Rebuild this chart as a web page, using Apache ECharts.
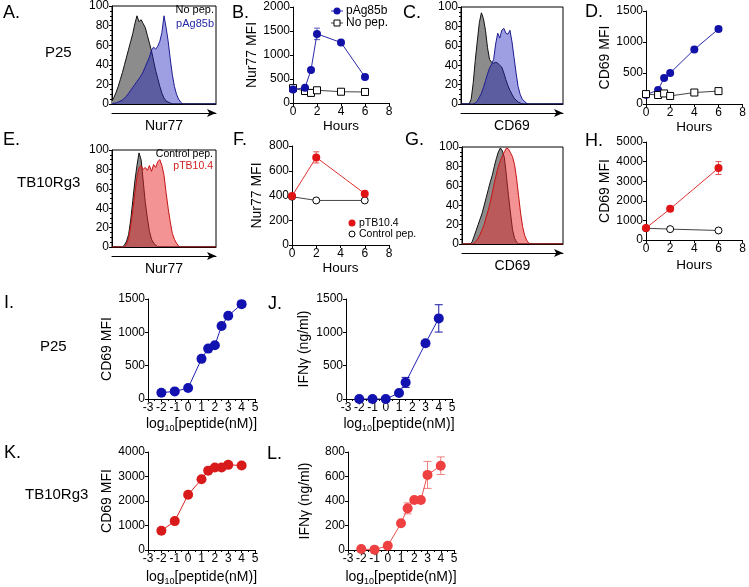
<!DOCTYPE html>
<html><head><meta charset="utf-8">
<script src="https://cdn.jsdelivr.net/npm/echarts@6/dist/echarts.min.js"></script>
<style>html,body{margin:0;padding:0;background:#fff}#c{width:749px;height:587px}</style>
</head><body><div id="c"></div>
<script>
// ---------- DATA ----------
const histBins = [0,2,4,6,8,10,12,14,16,18,20,22,24,26,28,30,32,34,36,38,40,42,44,46,48,50,52,54,56,58,60,62,64,66,68,70,72,74,76,78,80,82,84,86,88,90,92,94,96,98,100];
// A: Nur77, P25
const histA_noPep = [3,7,12,18,25,32,40,48,56,64,72,82,90,84,86,82,78,70,62,54,44,34,26,18,11,6,3,2,1,0,0,0,0,0,0,0,0,0,0,0,0,0,0,0,0,0,0,0,0,0,0];
const histA_pAg85b = [0,1,1,2,3,4,6,8,11,14,17,20,23,26,29,33,38,43,48,55,58,56,59,64,73,90,78,64,46,30,18,10,5,2,0,0,0,0,0,0,0,0,0,0,0,0,0,0,0,0,0];
// C: CD69, P25
const histC_noPep = [0,0,0,0,0,5,22,45,65,84,94,88,76,58,46,43,42,43,42,40,38,32,25,19,14,10,6,4,2,1,0,0,0,0,0,0,0,0,0,0,0,0,0,0,0,0,0,0,0,0,0];
const histC_pAg85b = [0,0,0,0,0,0,0,1,3,7,11,17,24,31,37,41,46,62,73,68,76,78,73,72,76,64,48,32,18,10,5,3,1,0,0,0,0,0,0,0,0,0,0,0,0,0,0,0,0,0,0];
// E: Nur77, TB10Rg3
const histE_ctrl = [0,0,0,0,0,0,2,6,13,28,48,68,84,97,90,68,46,30,16,8,4,2,0,0,0,0,0,0,0,0,0,0,0,0,0,0,0,0,0,0,0,0,0,0,0,0,0,0,0,0,0];
const histE_pTB = [0,0,0,0,0,0,0,3,9,22,38,56,72,82,84,80,82,79,84,78,85,82,88,90,84,74,56,40,26,14,8,4,1,0,0,0,0,0,0,0,0,0,0,0,0,0,0,0,0,0,0];
// G: CD69, TB10Rg3
const histG_ctrl = [0,0,0,0,0,2,8,14,20,26,32,40,48,56,64,71,80,88,95,99,96,89,70,50,32,15,6,2,0,0,0,0,0,0,0,0,0,0,0,0,0,0,0,0,0,0,0,0,0,0,0];
const histG_pTB = [0,0,0,0,0,0,1,3,6,10,15,20,28,35,43,53,63,72,80,86,91,95,99,98,94,90,82,68,50,32,18,9,4,1,0,0,0,0,0,0,0,0,0,0,0,0,0,0,0,0,0];

// B: Nur77 MFI vs hours (P25)
const hoursB = [0,1,1.5,2,4,6];
const nur77_pAg85b = [280,320,690,1440,1260,540];
const nur77_pAg85b_err = [30,25,30,120,30,30];
const nur77_noPep = [310,250,210,265,235,230];
// D: CD69 MFI vs hours (P25)
const hoursD = [0,1,1.5,2,4,6];
const cd69_pAg85b = [150,225,420,500,880,1210];
const cd69_pAg85b_err = [0,0,0,0,20,40];
const cd69_noPep = [160,145,170,130,185,208];
// F: Nur77 MFI vs hours (TB10Rg3)
const hoursF = [0,2,6];
const nur77_pTB = [395,708,415];
const nur77_pTB_err = [10,45,15];
const nur77_ctrl = [390,360,360];
// H: CD69 MFI vs hours (TB10Rg3)
const hoursH = [0,2,6];
const cd69_pTB = [610,1590,3670];
const cd69_pTB_err = [30,60,330];
const cd69_ctrl = [600,555,485];
// I-L: dose response
const logConc = [-2,-1,0,1,1.5,2,2.5,3,4];
const cd69_P25 = [95,114,164,602,756,806,1095,1249,1423];
const cd69_P25_err = [0,0,0,0,0,0,0,20,40];
const logConcJ = [-2,-1,0,1,1.5,3,4];
const ifng_P25 = [0,0,0,90,249,836,1209];
const ifng_P25_err = [0,0,0,10,75,40,205];
const cd69_TB = [787,1180,2256,2885,3239,3370,3370,3475,3450];
const cd69_TB_err = [0,0,0,0,0,0,90,110,100];
const ifng_TB = [8,3,34,218,340,408,408,613,688];
const ifng_TB_err = [0,0,0,0,45,0,0,110,72];

// ---------- BUILD ----------
const FONT = "'Liberation Sans', Arial, sans-serif";
function merge(a, b) {
  const o = Object.assign({}, a);
  for (const k in b) {
    if (b[k] && typeof b[k] === 'object' && !Array.isArray(b[k]) && a[k] && typeof a[k] === 'object') o[k] = merge(a[k], b[k]);
    else o[k] = b[k];
  }
  return o;
}
const AXIS = {
  axisLine:{show:true,onZero:false,lineStyle:{color:'#000',width:1}},
  axisTick:{show:true,length:3,lineStyle:{color:'#000',width:1}},
  axisLabel:{show:true,color:'#000',fontSize:12,fontFamily:FONT,margin:3,formatter:function(v){return String(v);}},
  splitLine:{show:false},
  nameTextStyle:{color:'#000',fontFamily:FONT,fontSize:14}
};
const ax = o => merge(AXIS, o);
const grids = [], xAxes = [], yAxes = [], series = [], graphics = [];

function hist(left, top, width, height, curves, xname) {
  grids.push({left, top, width, height, show:true, borderColor:'#000', borderWidth:1, backgroundColor:'rgba(0,0,0,0)'});
  const g = grids.length - 1;
  const xi = xAxes.length;
  xAxes.push(ax({type:'category', gridIndex:g, data:histBins, boundaryGap:false, axisTick:{show:false}, axisLabel:{show:false}}));
  xAxes.push(ax({type:'value', gridIndex:g, position:'bottom', offset:9, min:0, max:1,
    axisLine:{symbol:['none','arrow'], symbolSize:[6,9]}, axisTick:{show:false}, axisLabel:{show:false},
    name:xname, nameLocation:'middle', nameGap:6, nameTextStyle:{fontSize:14}}));
  const yi = yAxes.length;
  yAxes.push(ax({type:'value', gridIndex:g, min:0, max:100, interval:20,
    minorTick:{show:true, splitNumber:4, length:2, lineStyle:{color:'#000'}}, axisLabel:{fontSize:12}}));
  curves.forEach((c, k) => series.push({type:'line', name:c.name, xAxisIndex:xi, yAxisIndex:yi, data:c.data,
    symbol:'none', lineStyle:{color:c.line, width:1}, areaStyle:{color:c.fill, opacity:1}, z:2+k, silent:true}));
}

function panel(c) {
  grids.push({left:c.left, top:c.top, width:c.width, height:c.height});
  const g = grids.length - 1;
  const xi = xAxes.length;
  xAxes.push(ax({type:'value', gridIndex:g, min:c.xmin, max:c.xmax, interval:c.xint,
    name:c.xname, nameLocation:'middle', nameGap:c.xgap, nameTextStyle:c.xnameStyle || {},
    minorTick: c.xminor ? {show:true, splitNumber:2, length:2, lineStyle:{color:'#000'}} : {show:false}}));
  const yi = yAxes.length;
  yAxes.push(ax({type:'value', gridIndex:g, min:c.ymin, max:c.ymax, interval:c.yint,
    name:c.yname, nameLocation:'middle', nameGap:c.ygap}));
  return {xi, yi};
}
function lineSeries(p, name, xs, ys, st) {
  series.push({type:'line', name, xAxisIndex:p.xi, yAxisIndex:p.yi, data:xs.map((x,i)=>[x, ys[i]]),
    symbol:st.symbol, symbolSize:st.size, itemStyle:st.item, lineStyle:{color:st.line, width:1}, z:st.z || 3});
}
function errSeries(p, xs, ys, es, color, cap) {
  series.push({type:'custom', xAxisIndex:p.xi, yAxisIndex:p.yi, z:2,
    data:xs.map((x,i)=>[x, ys[i], es[i]]), encode:{x:0, y:1},
    renderItem:function(params, api){
      const x = api.value(0), y = api.value(1), e = api.value(2);
      if (!e) return {type:'group', children:[]};
      const a = api.coord([x, y + e]), b = api.coord([x, y - e]);
      const st = {stroke:color, lineWidth:1};
      return {type:'group', children:[
        {type:'line', shape:{x1:a[0], y1:a[1], x2:b[0], y2:b[1]}, style:st},
        {type:'line', shape:{x1:a[0]-cap, y1:a[1], x2:a[0]+cap, y2:a[1]}, style:st},
        {type:'line', shape:{x1:b[0]-cap, y1:b[1], x2:b[0]+cap, y2:b[1]}, style:st}
      ]};
    }});
}

const GREY = {line:'#111', fill:'#8c8c8c'};
const BLUEH = {line:'#1c1c90', fill:'rgba(30,30,190,0.43)'};
const REDH = {line:'#c81414', fill:'rgba(232,40,40,0.5)'};

// A
hist(112, 6, 104, 98, [
  Object.assign({name:'A no pep', data:histA_noPep}, GREY),
  Object.assign({name:'A pAg85b', data:histA_pAg85b}, BLUEH)], 'Nur77');
// B
const pB = panel({left:293, top:7, width:96, height:96, xmin:0, xmax:8, xint:2, ymin:0, ymax:2000, yint:500,
  xname:'Hours', xgap:15, xnameStyle:{fontSize:13.5}, yname:'Nur77 MFI', ygap:28});
errSeries(pB, hoursB, nur77_pAg85b, nur77_pAg85b_err, '#5a5ac0', 3);
lineSeries(pB, 'No pep.', hoursB, nur77_noPep, {symbol:'rect', size:7, item:{color:'#fff', borderColor:'#000', borderWidth:1}, line:'#444', z:3});
lineSeries(pB, 'pAg85b', hoursB, nur77_pAg85b, {symbol:'circle', size:8, item:{color:'#1212a8'}, line:'#2a2aa8', z:4});
// C
hist(461, 7, 102, 97, [
  Object.assign({name:'C no pep', data:histC_noPep}, GREY),
  Object.assign({name:'C pAg85b', data:histC_pAg85b}, BLUEH)], 'CD69');
// D
const pD = panel({left:646, top:11, width:97, height:93, xmin:0, xmax:8, xint:2, ymin:0, ymax:1500, yint:500,
  xname:'Hours', xgap:15, xnameStyle:{fontSize:13.5}, yname:'CD69 MFI', ygap:31});
errSeries(pD, hoursD, cd69_pAg85b, cd69_pAg85b_err, '#3a3ab0', 3);
lineSeries(pD, 'pAg85b D', hoursD, cd69_pAg85b, {symbol:'circle', size:8, item:{color:'#1212a8'}, line:'#2a2aa8', z:3});
lineSeries(pD, 'No pep. D', hoursD, cd69_noPep, {symbol:'rect', size:7, item:{color:'#fff', borderColor:'#000', borderWidth:1}, line:'#444', z:4});
// E
hist(112, 150, 104, 97, [
  Object.assign({name:'E ctrl', data:histE_ctrl}, GREY),
  Object.assign({name:'E pTB', data:histE_pTB}, REDH)], 'Nur77');
// F
const pF = panel({left:292, top:146, width:97, height:99, xmin:0, xmax:8, xint:2, ymin:0, ymax:800, yint:200,
  xname:'Hours', xgap:14, xnameStyle:{fontSize:13.5}, yname:'Nur77 MFI', ygap:28});
errSeries(pF, hoursF, nur77_pTB, nur77_pTB_err, '#e05050', 3);
lineSeries(pF, 'Control pep.', hoursF, nur77_ctrl, {symbol:'circle', size:7, item:{color:'#fff', borderColor:'#000', borderWidth:1}, line:'#444', z:3});
lineSeries(pF, 'pTB10.4', hoursF, nur77_pTB, {symbol:'circle', size:8, item:{color:'#e01414'}, line:'#e03030', z:4});
// G
hist(462, 147, 101, 97, [
  Object.assign({name:'G ctrl', data:histG_ctrl}, GREY),
  Object.assign({name:'G pTB', data:histG_pTB}, REDH)], 'CD69');
// H
const pH = panel({left:646, top:142, width:97, height:98, xmin:0, xmax:8, xint:2, ymin:0, ymax:5000, yint:1000,
  xname:'Hours', xgap:18, xnameStyle:{fontSize:13.5}, yname:'CD69 MFI', ygap:31});
errSeries(pH, hoursH, cd69_pTB, cd69_pTB_err, '#e05050', 3);
lineSeries(pH, 'Control pep. H', hoursH, cd69_ctrl, {symbol:'circle', size:7, item:{color:'#fff', borderColor:'#000', borderWidth:1}, line:'#444', z:3});
lineSeries(pH, 'pTB10.4 H', hoursH, cd69_pTB, {symbol:'circle', size:8, item:{color:'#e01414'}, line:'#e03030', z:4});

const LOGNAME = 'log{sub|10}[peptide(nM)]';
const LOGSTYLE = {fontSize:14, rich:{sub:{fontSize:9, fontFamily:FONT, color:'#000', padding:[8,0,0,0]}}};
// I
const pI = panel({left:148, top:299, width:107, height:100, xmin:-3, xmax:5, xint:1, ymin:0, ymax:1500, yint:500,
  xname:LOGNAME, xgap:17, xnameStyle:LOGSTYLE, yname:'CD69 MFI', ygap:30, xminor:true});
errSeries(pI, logConc, cd69_P25, cd69_P25_err, '#1a1aa0', 4);
lineSeries(pI, 'I', logConc, cd69_P25, {symbol:'circle', size:10, item:{color:'#1212b0'}, line:'#2020b0'});
// J
const pJ = panel({left:346, top:299, width:106, height:100, xmin:-3, xmax:5, xint:1, ymin:0, ymax:1500, yint:500,
  xname:LOGNAME, xgap:17, xnameStyle:LOGSTYLE, yname:'IFNγ (ng/ml)', ygap:35, xminor:true});
errSeries(pJ, logConcJ, ifng_P25, ifng_P25_err, '#1a1aa0', 4);
lineSeries(pJ, 'J', logConcJ, ifng_P25, {symbol:'circle', size:10, item:{color:'#1212b0'}, line:'#2020b0'});
// K
const pK = panel({left:148, top:452, width:107, height:102, xmin:-3, xmax:5, xint:1, ymin:0, ymax:4000, yint:1000,
  xname:LOGNAME, xgap:19, xnameStyle:LOGSTYLE, yname:'CD69 MFI', ygap:30, xminor:true});
errSeries(pK, logConc, cd69_TB, cd69_TB_err, '#e04040', 4);
lineSeries(pK, 'K', logConc, cd69_TB, {symbol:'circle', size:10, item:{color:'#d81a1a'}, line:'#d82020'});
// L
const pL = panel({left:348, top:452, width:106, height:102, xmin:-3, xmax:5, xint:1, ymin:0, ymax:800, yint:200,
  xname:LOGNAME, xgap:19, xnameStyle:LOGSTYLE, yname:'IFNγ (ng/ml)', ygap:36, xminor:true});
errSeries(pL, logConc, ifng_TB, ifng_TB_err, '#f08080', 4);
lineSeries(pL, 'L', logConc, ifng_TB, {symbol:'circle', size:10, item:{color:'#ee4040'}, line:'#ee5050'});

// ---------- TEXT / LEGENDS ----------
function txt(x, y, t, size, color, align) {
  graphics.push({type:'text', x, y, style:{text:t, fontSize:size, fontFamily:FONT, fill:color || '#000', align:align || 'left', verticalAlign:'middle'}});
}
[['A.',3,13],['B.',232,13],['C.',403,13],['D.',585,12],['E.',3,140],['F.',233,140],['G.',405,140],['H.',585,141],
 ['I.',4,303],['J.',268,304],['K.',4,453],['L.',267,454]].forEach(a => txt(a[1], a[2], a[0], 18));
txt(45, 53, 'P25', 15); txt(17, 183, 'TB10Rg3', 15); txt(40, 347, 'P25', 15); txt(25, 495, 'TB10Rg3', 15);
// histogram legends
txt(214, 10, 'No pep.', 11, '#000', 'right'); txt(214, 24, 'pAg85b', 11, '#2828a8', 'right');
txt(213, 154, 'Control pep.', 10.5, '#000', 'right'); txt(213, 166, 'pTB10.4', 10.5, '#d42020', 'right');
// B legend
graphics.push({type:'line', shape:{x1:331, y1:11, x2:343, y2:11}, style:{stroke:'#2a2aa8', lineWidth:1}});
graphics.push({type:'circle', shape:{cx:337, cy:11, r:3.5}, style:{fill:'#1212a8'}});
txt(346, 11, 'pAg85b', 12);
graphics.push({type:'line', shape:{x1:331, y1:23, x2:343, y2:23}, style:{stroke:'#444', lineWidth:1}});
graphics.push({type:'rect', shape:{x:334, y:20, width:6, height:6}, style:{fill:'#fff', stroke:'#000', lineWidth:1}});
txt(346, 23, 'No pep.', 12);
// F legend
graphics.push({type:'circle', shape:{cx:352, cy:223, r:3.5}, style:{fill:'#e01414'}});
txt(359, 223, 'pTB10.4', 10.5);
graphics.push({type:'circle', shape:{cx:352, cy:234, r:3}, style:{fill:'#fff', stroke:'#000', lineWidth:1}});
txt(359, 234, 'Control pep.', 10.5);

const chart = echarts.init(document.getElementById('c'), null, {renderer:'canvas'});
chart.setOption({
  animation:false,
  backgroundColor:'#fff',
  textStyle:{fontFamily:FONT},
  grid:grids, xAxis:xAxes, yAxis:yAxes, series:series, graphic:graphics
});
</script>
</body></html>
